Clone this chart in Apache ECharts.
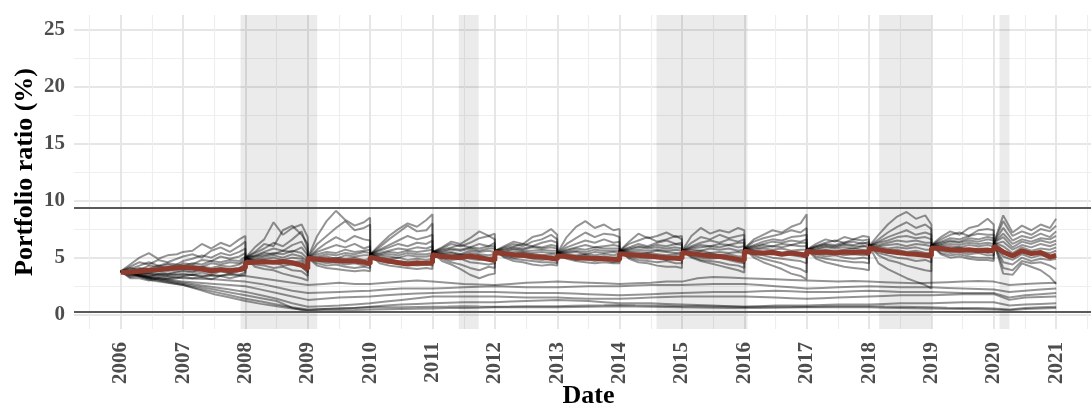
<!DOCTYPE html>
<html><head><meta charset="utf-8">
<script src="https://cdn.jsdelivr.net/npm/echarts@6/dist/echarts.min.js"></script>
<style>html,body{margin:0;padding:0;background:#fff}#chart{width:1091px;height:405px}</style>
</head><body><div id="chart"></div>
<script>
// ---- data ----
// upper portfolios: 8 readings per year, reset at each rebalancing (Y.998 -> Y+1)
const dates = [
2006,2006.15,2006.3,2006.45,2006.6,2006.75,2006.9,2006.998,
2007,2007.15,2007.3,2007.45,2007.6,2007.75,2007.9,2007.998,
2008,2008.15,2008.3,2008.45,2008.6,2008.75,2008.9,2008.998,
2009,2009.15,2009.3,2009.45,2009.6,2009.75,2009.9,2009.998,
2010,2010.15,2010.3,2010.45,2010.6,2010.75,2010.9,2010.998,
2011,2011.15,2011.3,2011.45,2011.6,2011.75,2011.9,2011.998,
2012,2012.15,2012.3,2012.45,2012.6,2012.75,2012.9,2012.998,
2013,2013.15,2013.3,2013.45,2013.6,2013.75,2013.9,2013.998,
2014,2014.15,2014.3,2014.45,2014.6,2014.75,2014.9,2014.998,
2015,2015.15,2015.3,2015.45,2015.6,2015.75,2015.9,2015.998,
2016,2016.15,2016.3,2016.45,2016.6,2016.75,2016.9,2016.998,
2017,2017.15,2017.3,2017.45,2017.6,2017.75,2017.9,2017.998,
2018,2018.15,2018.3,2018.45,2018.6,2018.75,2018.9,2018.998,
2019,2019.15,2019.3,2019.45,2019.6,2019.75,2019.9,2019.998,
2020,2020.15,2020.3,2020.45,2020.6,2020.75,2020.9,2020.998];

const upper01 = [3.8,4.4,5.0,5.4,4.9,5.2,5.3,5.5, 5.5,5.6,6.2,5.8,6.3,6.0,6.6,6.9, 5.0,5.9,6.6,8.1,7.0,7.6,7.9,6.8, 5.0,6.9,8.2,9.1,8.3,7.8,8.1,8.5, 5.3,6.1,6.9,7.5,8.0,7.7,8.3,8.8, 5.5,5.9,6.4,6.2,6.7,7.3,6.9,7.1, 5.6,6.0,6.4,6.2,6.8,7.0,7.5,7.0, 5.4,6.8,7.7,8.2,7.6,7.9,7.4,7.5, 5.6,6.4,7.1,6.7,6.9,7.2,6.8,6.9, 5.6,6.9,7.6,7.1,7.4,7.2,7.6,7.4, 5.8,6.6,7.0,7.4,7.2,7.7,8.0,8.8, 5.7,6.2,6.6,6.4,6.8,6.6,6.9,6.8, 6.0,7.0,7.9,8.6,9.0,8.4,8.7,7.9, 6.1,6.8,7.3,7.0,7.6,7.8,8.4,7.9, 6.3,8.7,7.2,7.8,7.4,7.9,7.6,8.4];
const upper02 = [3.8,4.2,4.6,4.4,4.8,4.6,4.9,5.1, 5.1,5.3,5.0,5.6,5.9,5.5,6.0,6.4, 5.0,5.5,6.2,6.0,7.4,7.8,7.0,6.2, 5.0,6.2,6.9,7.6,8.2,7.4,7.6,7.9, 5.3,5.9,6.6,7.2,7.8,7.3,7.4,8.0, 5.5,5.8,6.2,6.0,6.3,6.7,6.9,6.6, 5.6,5.9,6.2,6.0,6.4,6.6,7.0,6.6, 5.4,6.2,6.7,7.2,6.8,7.1,7.0,6.8, 5.6,6.2,6.5,6.8,6.4,6.6,6.9,6.6, 5.6,6.3,6.8,6.6,7.0,6.7,6.9,7.0, 5.8,6.4,6.7,6.9,7.1,7.4,7.2,7.6, 5.7,6.0,6.3,6.5,6.3,6.6,6.5,6.6, 6.0,6.6,7.2,7.7,8.1,7.6,7.9,7.5, 6.1,6.6,7.0,7.2,6.9,7.4,7.5,7.4, 6.3,8.2,6.9,7.3,7.0,7.5,7.3,7.8];
const upper03 = [3.8,4.0,4.3,4.6,4.3,4.5,4.4,4.7, 4.7,4.9,5.2,5.0,5.4,5.2,5.5,5.8, 5.0,5.4,5.8,6.3,6.0,6.6,7.3,5.8, 5.0,5.7,6.3,6.8,6.4,6.9,6.6,6.5, 5.3,5.7,6.1,6.5,6.9,6.6,6.8,7.0, 5.5,5.7,5.9,6.1,5.9,6.2,6.0,6.3, 5.6,5.8,6.0,6.2,6.0,6.3,6.5,6.3, 5.4,5.9,6.2,6.5,6.3,6.6,6.3,6.4, 5.6,5.9,6.2,6.0,6.3,6.5,6.2,6.3, 5.6,6.0,6.3,6.5,6.3,6.6,6.4,6.6, 5.8,6.1,6.4,6.6,6.5,6.8,6.9,7.0, 5.7,6.0,6.2,6.1,6.3,6.4,6.2,6.4, 6.0,6.4,6.8,7.1,7.4,7.0,7.2,7.0, 6.1,6.4,6.7,6.6,6.9,7.1,7.0,7.0, 6.3,7.6,6.5,6.9,6.7,7.1,6.8,7.3];
const upper04 = [3.8,4.1,3.9,4.3,4.2,4.4,4.2,4.5, 4.5,4.4,4.8,4.7,5.1,4.9,5.1,5.4, 5.0,5.2,5.5,5.8,5.6,6.1,6.4,5.5, 5.0,5.5,5.8,6.1,5.9,6.2,5.8,6.0, 5.3,5.6,5.9,6.2,6.0,6.3,6.2,6.5, 5.5,5.6,5.8,5.7,5.9,5.8,6.0,6.0, 5.6,5.7,5.9,5.8,6.0,5.9,6.1,6.0, 5.4,5.7,5.9,6.1,5.9,6.0,6.1,6.0, 5.6,5.8,6.0,5.9,6.1,6.0,6.2,6.1, 5.6,5.9,6.1,6.0,6.2,6.1,6.3,6.3, 5.8,6.0,6.2,6.4,6.3,6.5,6.4,6.6, 5.7,5.9,6.1,6.0,6.2,6.1,6.3,6.2, 6.0,6.3,6.5,6.8,6.9,6.7,6.8,6.6, 6.1,6.3,6.5,6.4,6.7,6.6,6.8,6.7, 6.3,7.1,6.2,6.6,6.4,6.7,6.6,6.9];
const upper05 = [3.8,3.9,4.1,4.0,4.3,4.1,4.4,4.3, 4.3,4.5,4.4,4.7,4.6,4.8,4.7,5.1, 5.0,5.1,5.4,5.3,5.6,5.5,5.9,5.2, 5.0,5.3,5.5,5.4,5.7,5.5,5.6,5.7, 5.3,5.4,5.6,5.8,5.7,5.9,5.8,6.0, 5.5,5.5,5.7,5.6,5.8,5.6,5.8,5.8, 5.6,5.6,5.8,5.7,5.9,5.8,5.9,5.8, 5.4,5.6,5.8,5.7,5.9,5.8,5.8,5.8, 5.6,5.7,5.9,5.8,5.9,5.8,5.9,5.8, 5.6,5.8,5.9,6.0,5.9,6.1,5.9,6.0, 5.8,5.9,6.1,6.0,6.2,6.1,6.3,6.3, 5.7,5.8,6.0,5.9,6.1,6.0,6.0,6.1, 6.0,6.1,6.3,6.5,6.4,6.5,6.3,6.3, 6.1,6.2,6.4,6.3,6.5,6.4,6.6,6.5, 6.3,6.8,5.9,6.4,6.2,6.5,6.3,6.5];
const upper06 = [3.8,3.7,4.0,3.9,4.1,4.0,4.2,4.2, 4.2,4.3,4.2,4.5,4.4,4.6,4.5,4.9, 5.0,5.1,5.2,5.4,5.3,5.6,5.4,4.9, 5.0,5.1,5.3,5.2,5.4,5.3,5.5,5.4, 5.3,5.3,5.5,5.4,5.6,5.5,5.6,5.7, 5.5,5.4,5.5,5.3,5.6,5.5,5.6,5.5, 5.6,5.5,5.7,5.6,5.6,5.7,5.6,5.6, 5.4,5.5,5.6,5.5,5.7,5.6,5.6,5.6, 5.6,5.6,5.7,5.6,5.7,5.6,5.7,5.6, 5.6,5.7,5.6,5.8,5.7,5.8,5.6,5.7, 5.8,5.8,5.9,6.0,5.9,6.1,6.0,6.0, 5.7,5.7,5.9,5.8,5.9,5.8,6.0,5.9, 6.0,6.0,6.1,6.2,6.0,6.2,6.1,6.0, 6.1,6.1,6.2,6.1,6.3,6.2,6.3,6.2, 6.3,6.4,5.7,6.1,5.9,6.2,6.0,6.2];
const upper07 = [3.8,3.6,3.8,3.7,3.9,3.8,4.0,4.1, 4.1,4.0,4.2,4.1,4.3,4.2,4.4,4.7, 5.0,4.9,5.1,5.2,5.0,5.3,5.1,4.6, 5.0,5.0,5.1,4.9,5.2,5.1,5.2,5.2, 5.3,5.2,5.3,5.2,5.4,5.3,5.3,5.4, 5.5,5.3,5.4,5.2,5.4,5.3,5.2,5.3, 5.6,5.4,5.5,5.5,5.4,5.5,5.4,5.4, 5.4,5.4,5.5,5.3,5.5,5.4,5.5,5.4, 5.6,5.5,5.5,5.4,5.6,5.5,5.4,5.4, 5.6,5.5,5.6,5.4,5.5,5.4,5.5,5.4, 5.8,5.7,5.8,5.7,5.8,5.6,5.7,5.7, 5.7,5.6,5.7,5.6,5.7,5.8,5.7,5.7, 6.0,5.9,5.8,5.9,5.8,5.9,5.7,5.7, 6.1,6.0,6.0,5.9,6.1,6.0,6.1,6.0, 6.3,6.0,5.4,5.9,5.6,5.8,5.7,5.9];
const upper08 = [3.8,3.5,3.7,3.6,3.8,3.6,3.8,3.9, 3.9,3.8,4.0,3.9,4.1,4.0,4.1,4.4, 5.0,4.8,4.9,5.0,4.8,5.0,4.9,4.3, 5.0,4.9,4.8,5.0,4.9,5.0,4.8,4.9, 5.3,5.1,5.1,5.0,5.2,5.1,5.1,5.2, 5.5,5.3,5.2,5.3,5.1,5.2,5.0,5.1, 5.6,5.4,5.3,5.4,5.3,5.2,5.3,5.2, 5.4,5.3,5.2,5.3,5.2,5.3,5.2,5.3, 5.6,5.4,5.3,5.4,5.3,5.2,5.3,5.2, 5.6,5.4,5.3,5.4,5.2,5.3,5.1,5.1, 5.8,5.6,5.5,5.6,5.4,5.5,5.4,5.4, 5.7,5.5,5.6,5.4,5.5,5.4,5.5,5.5, 6.0,5.7,5.6,5.7,5.5,5.6,5.4,5.4, 6.1,5.9,5.8,5.9,5.7,5.8,5.8,5.7, 6.3,5.6,5.1,5.6,5.3,5.5,5.4,5.6];
const upper09 = [3.8,3.5,3.6,3.4,3.6,3.5,3.7,3.8, 3.8,3.7,3.9,3.7,3.9,3.8,4.0,4.2, 5.0,4.7,4.8,4.6,4.8,4.6,4.7,4.0, 5.0,4.8,4.7,4.8,4.6,4.7,4.6,4.6, 5.3,5.0,4.9,5.0,4.8,4.9,4.8,4.9, 5.5,5.2,5.0,5.1,4.9,4.8,4.9,4.8, 5.6,5.3,5.2,5.1,5.2,5.0,5.1,5.0, 5.4,5.2,5.1,5.2,5.0,5.1,5.0,5.1, 5.6,5.3,5.2,5.1,5.2,5.0,5.1,5.0, 5.6,5.3,5.2,5.1,5.2,5.0,4.9,4.8, 5.8,5.5,5.4,5.3,5.4,5.2,5.1,5.0, 5.7,5.4,5.3,5.4,5.2,5.3,5.2,5.2, 6.0,5.6,5.4,5.5,5.3,5.2,5.1,5.0, 6.1,5.7,5.6,5.7,5.5,5.6,5.4,5.5, 6.3,5.1,4.8,5.3,5.0,5.2,5.1,5.3];
const upper10 = [3.8,3.4,3.5,3.3,3.5,3.4,3.5,3.6, 3.6,3.5,3.7,3.5,3.8,3.6,3.8,3.9, 5.0,4.6,4.5,4.6,4.3,4.4,4.2,3.7, 5.0,4.7,4.5,4.6,4.4,4.5,4.3,4.4, 5.3,4.9,4.8,4.7,4.6,4.7,4.5,4.6, 5.5,5.0,4.8,4.9,4.6,4.5,4.4,4.5, 5.6,5.2,5.0,5.1,4.9,4.8,4.9,4.8, 5.4,5.1,5.0,4.9,5.0,4.8,4.9,4.9, 5.6,5.1,5.0,4.9,5.0,4.8,4.9,4.8, 5.6,5.2,5.0,4.9,5.0,4.8,4.6,4.5, 5.8,5.3,5.2,5.0,4.9,4.8,4.7,4.5, 5.7,5.3,5.1,5.2,5.0,4.9,5.0,4.9, 6.0,5.4,5.2,5.0,4.9,4.7,4.8,4.6, 6.1,5.6,5.4,5.5,5.3,5.4,5.2,5.2, 6.3,4.6,4.4,5.0,4.7,4.9,4.8,4.9];
const upper11 = [3.8,3.3,3.4,3.2,3.3,3.2,3.3,3.4, 3.4,3.5,3.3,3.5,3.4,3.6,3.5,3.7, 5.0,4.4,4.3,4.1,4.2,3.9,3.8,3.4, 5.0,4.5,4.3,4.4,4.2,4.1,4.2,4.1, 5.3,4.7,4.5,4.6,4.4,4.3,4.4,4.3, 5.5,4.9,4.6,4.4,4.1,3.9,4.2,4.1, 5.6,5.1,4.9,4.8,4.7,4.6,4.6,4.5, 5.4,5.0,4.8,4.9,4.7,4.8,4.6,4.7, 5.6,5.0,4.8,4.7,4.6,4.7,4.5,4.5, 5.6,5.1,4.8,4.7,4.6,4.4,4.3,4.1, 5.8,5.2,4.9,4.7,4.5,4.2,4.0,3.7, 5.7,5.1,4.9,4.8,4.7,4.6,4.6,4.5, 6.0,5.2,4.8,4.6,4.3,4.1,3.9,3.8, 6.1,5.4,5.2,5.3,5.1,5.0,5.0,4.9, 6.3,4.1,3.9,4.7,4.5,4.6,4.3,4.0];
const upper12 = [3.8,3.2,3.2,3.0,3.2,3.1,3.2,3.3, 3.3,3.2,3.3,3.1,3.4,3.2,3.4,3.5, 5.0,4.2,4.0,3.9,3.6,3.4,3.2,3.0, 5.0,4.3,4.1,4.0,3.9,3.8,3.9,3.8, 5.3,4.5,4.3,4.2,4.1,4.0,4.1,4.0, 5.5,4.7,4.4,4.0,3.5,3.2,3.5,3.6, 5.6,5.0,4.7,4.6,4.4,4.3,4.4,4.3, 5.4,4.9,4.7,4.6,4.5,4.6,4.5,4.5, 5.6,4.9,4.6,4.5,4.3,4.2,4.2,4.1, 5.6,5.0,4.7,4.5,4.3,4.1,3.9,3.7, 5.8,5.0,4.6,4.3,4.0,3.6,3.4,3.1, 5.7,4.9,4.6,4.4,4.2,4.1,4.0,3.9, 6.0,4.5,4.0,3.6,3.2,2.9,2.6,2.3, 6.1,5.3,5.0,5.1,4.9,4.8,4.8,4.7, 6.3,3.6,3.5,4.5,4.2,3.9,3.3,2.7];

// lower portfolios: quarterly readings, never reset
const lowerDates = [2006,2006.25,2006.5,2006.75,2007,2007.25,2007.5,2007.75,2008,2008.25,2008.5,2008.75,2009,2009.25,2009.5,2009.75,2010,2010.25,2010.5,2010.75,2011,2011.25,2011.5,2011.75,2012,2012.25,2012.5,2012.75,2013,2013.25,2013.5,2013.75,2014,2014.25,2014.5,2014.75,2015,2015.25,2015.5,2015.75,2016,2016.25,2016.5,2016.75,2017,2017.25,2017.5,2017.75,2018,2018.25,2018.5,2018.75,2019,2019.25,2019.5,2019.75,2020,2020.25,2020.5,2020.75,2021];
const lower01 = [3.8,3.7,3.6,3.55, 3.5,3.45,3.4,3.5, 3.4,3.2,3.0,2.8, 2.6,2.7,2.8,2.7, 2.7,2.8,2.9,3.0, 2.9,2.8,2.7,2.65, 2.6,2.7,2.8,2.85, 2.9,2.85,2.8,2.75, 2.7,2.75,2.8,2.9, 2.9,3.2,3.3,3.25, 3.2,3.15,3.1,3.05, 3.0,2.95,2.9,2.95, 2.9,2.85,2.8,2.75, 2.8,2.85,2.9,2.95, 2.9,2.6,2.7,2.75, 2.8];
const lower02 = [3.8,3.65,3.5,3.35, 3.2,3.15,3.1,3.0, 2.9,2.7,2.4,2.1, 1.9,1.95,2.0,2.05, 2.1,2.2,2.3,2.3, 2.3,2.35,2.4,2.45, 2.5,2.45,2.4,2.4, 2.4,2.45,2.5,2.5, 2.5,2.55,2.6,2.6, 2.6,2.65,2.7,2.7, 2.7,2.6,2.5,2.4, 2.3,2.35,2.4,2.45, 2.5,2.45,2.4,2.4, 2.4,2.35,2.3,2.25, 2.2,2.0,2.1,2.2, 2.3];
const lower03 = [3.8,3.55,3.3,3.1, 2.9,2.8,2.7,2.6, 2.5,2.2,1.9,1.6, 1.3,1.4,1.5,1.55, 1.6,1.7,1.8,1.85, 1.9,1.95,2.0,2.0, 2.0,1.95,1.9,1.9, 1.9,1.85,1.8,1.75, 1.7,1.75,1.8,1.85, 1.9,1.95,2.0,2.0, 2.0,2.05,2.1,2.05, 2.0,2.0,2.0,2.05, 2.1,2.05,2.0,2.0, 2.0,1.95,1.9,1.9, 1.9,1.5,1.7,1.8, 1.9];
const lower04 = [3.8,3.5,3.2,3.0, 2.8,2.6,2.4,2.2, 2.0,1.7,1.4,1.0, 0.7,0.75,0.8,0.9, 1.0,1.15,1.3,1.45, 1.6,1.6,1.6,1.6, 1.6,1.55,1.5,1.5, 1.5,1.45,1.4,1.4, 1.4,1.45,1.5,1.55, 1.6,1.6,1.6,1.6, 1.6,1.55,1.5,1.45, 1.4,1.45,1.5,1.55, 1.6,1.65,1.7,1.7, 1.7,1.75,1.8,1.8, 1.8,1.3,1.5,1.55, 1.6];
const lower05 = [3.8,3.45,3.1,2.85, 2.6,2.3,2.0,1.7, 1.4,1.15,0.9,0.65, 0.45,0.5,0.55,0.6, 0.7,0.8,0.9,0.95, 1.0,1.05,1.1,1.1, 1.1,1.15,1.2,1.25, 1.3,1.25,1.2,1.1, 1.0,1.0,1.0,0.95, 0.9,0.85,0.8,0.75, 0.7,0.75,0.8,0.8, 0.8,0.85,0.9,0.9, 0.9,0.95,1.0,1.0, 1.0,1.05,1.1,1.1, 1.1,0.8,0.9,0.95, 1.0];
const lower06 = [3.8,3.4,3.0,2.8, 2.6,2.2,1.8,1.5, 1.2,0.95,0.75,0.55, 0.4,0.5,0.55,0.6, 0.65,0.65,0.65,0.68, 0.7,0.72,0.75,0.72, 0.7,0.72,0.75,0.75, 0.75,0.78,0.8,0.82, 0.85,0.82,0.8,0.78, 0.75,0.74,0.72,0.72, 0.7,0.7,0.7,0.7, 0.7,0.72,0.75,0.75, 0.75,0.72,0.7,0.68, 0.65,0.62,0.6,0.58, 0.55,0.45,0.6,0.65, 0.7];
const lower07 = [3.8,3.5,3.2,2.95, 2.7,2.45,2.2,1.95, 1.7,1.45,1.2,0.6, 0.3,0.35,0.4,0.42, 0.45,0.48,0.5,0.52, 0.55,0.58,0.6,0.62, 0.65,0.65,0.65,0.65, 0.65,0.68,0.7,0.72, 0.75,0.72,0.7,0.68, 0.65,0.64,0.62,0.6, 0.6,0.6,0.62,0.63, 0.65,0.65,0.65,0.65, 0.65,0.62,0.6,0.57, 0.55,0.52,0.5,0.48, 0.45,0.4,0.5,0.55, 0.6];

const meanRatio = [3.72,3.72,3.8,3.9,3.95,4.05,4.1,4.15, 4.25,4.1,4.0,3.85,3.95,3.85,3.95,4.1, 4.55,4.6,4.65,4.6,4.65,4.55,4.35,4.0, 4.95,4.85,4.8,4.75,4.7,4.7,4.6,4.45, 5.05,4.85,4.7,4.55,4.45,4.5,4.5,4.55, 5.25,5.1,5.05,5.0,5.15,5.0,4.85,4.75, 5.45,5.35,5.25,5.2,5.1,5.05,4.95,4.85, 5.15,5.1,5.0,4.95,4.95,4.9,4.85,4.8, 5.35,5.25,5.2,5.15,5.05,5.0,4.95,4.9, 5.45,5.35,5.25,5.15,5.1,5.0,4.85,4.75, 5.55,5.45,5.4,5.45,5.3,5.4,5.3,5.15, 5.55,5.45,5.5,5.4,5.5,5.45,5.5,5.4, 5.85,5.7,5.55,5.45,5.35,5.3,5.2,5.15, 5.85,5.8,5.7,5.65,5.7,5.6,5.65,5.6, 6.0,5.5,5.15,5.6,5.35,5.45,5.05,5.2];

const yearTicks = [2006,2007,2008,2009,2010,2011,2012,2013,2014,2015,2016,2017,2018,2019,2020,2021];
const ratioTicks = [0,5,10,15,20,25];
const shadedPeriods = [[2007.92,2009.15],[2011.42,2011.74],[2014.59,2016.05],[2018.16,2019.0],[2020.09,2020.25]];
const boundLines = [0.25, 9.4];

// ---- chart ----
const FONT = "'Liberation Serif','Times New Roman',serif";
const NONE = 'rgba(0,0,0,0)';
const MAJOR = '#e6e6e6';
const MINOR = '#eeeeee';
const pair = (xs, ys) => xs.map((x, i) => [x, ys[i]]);
const upperLines = [upper01,upper02,upper03,upper04,upper05,upper06,upper07,upper08,upper09,upper10,upper11,upper12];
const lowerLines = [lower01,lower02,lower03,lower04,lower05,lower06,lower07];
const gray = {color:'rgba(0,0,0,0.42)', width:2};

const series = [];
series.push({type:'line', data:[], z:1, silent:true,
  markArea:{silent:true, itemStyle:{color:'rgba(0,0,0,0.08)'},
    data: shadedPeriods.map(p => [{xAxis:p[0]},{xAxis:p[1]}])}});
upperLines.forEach(u => series.push({type:'line', data:pair(dates,u), symbol:'none', z:2, silent:true, lineStyle:gray, itemStyle:{color:'#888'}}));
lowerLines.forEach(l => series.push({type:'line', data:pair(lowerDates,l), symbol:'none', z:2, silent:true, lineStyle:gray, itemStyle:{color:'#888'}}));
series.push({type:'line', data:pair(dates,meanRatio), symbol:'none', z:4, silent:true,
  lineStyle:{color:'#8e3a2c', width:5}, itemStyle:{color:'#8e3a2c'}});
series.push({type:'line', data:[], z:3, silent:true,
  markLine:{silent:true, symbol:['none','none'], label:{show:false},
    lineStyle:{color:'#5a5a5a', width:1.8, type:'solid'},
    data: boundLines.map(v => ({yAxis:v}))}});

const chart = echarts.init(document.getElementById('chart'), null, {renderer:'canvas'});
chart.setOption({
  animation:false,
  backgroundColor:'#fff',
  grid:{left:74, right:-12, top:15, bottom:76, containLabel:false, outerBoundsMode:'none'},
  xAxis:[{
    type:'value', min:2005.25, max:2021.75, interval:0.25,
    axisLine:{show:false}, axisTick:{show:false},
    axisLabel:{rotate:90, margin:13, fontFamily:FONT, fontWeight:'bold', fontSize:21, color:'#4d4d4d',
      formatter: v => yearTicks.indexOf(Math.round(v*1000)/1000) >= 0 ? String(Math.round(v)) : ''},
    splitLine:{show:true, lineStyle:{color:[NONE,NONE,NONE,MAJOR], width:2}},
    name:'Date', nameLocation:'middle', nameGap:54, nameMoveOverlap:false,
    nameTextStyle:{fontFamily:FONT, fontWeight:'bold', fontSize:26, color:'#000'}
  },{
    type:'value', min:2005.25, max:2021.75, interval:0.25, position:'top',
    axisLine:{show:false}, axisTick:{show:false}, axisLabel:{show:false},
    splitLine:{show:true, lineStyle:{color:[NONE,MINOR,NONE,NONE], width:1.2}}
  }],
  yAxis:[{
    type:'value', min:-1.25, max:26.25, interval:1.25,
    axisLine:{show:false}, axisTick:{show:false},
    axisLabel:{margin:9, fontFamily:FONT, fontWeight:'bold', fontSize:21, color:'#4d4d4d',
      formatter: v => ratioTicks.indexOf(Math.round(v*1000)/1000) >= 0 ? String(Math.round(v)) : ''},
    splitLine:{show:true, lineStyle:{color:[NONE,MAJOR,NONE,NONE], width:2}},
    name:'Portfolio ratio (%)', nameLocation:'middle', nameGap:36, nameMoveOverlap:false,
    nameTextStyle:{fontFamily:FONT, fontWeight:'bold', fontSize:26, color:'#000'}
  },{
    type:'value', min:-1.25, max:26.25, interval:1.25, position:'right',
    axisLine:{show:false}, axisTick:{show:false}, axisLabel:{show:false},
    splitLine:{show:true, lineStyle:{color:[NONE,NONE,NONE,MINOR], width:1.2}}
  }],
  series: series
});
</script>
</body></html>
